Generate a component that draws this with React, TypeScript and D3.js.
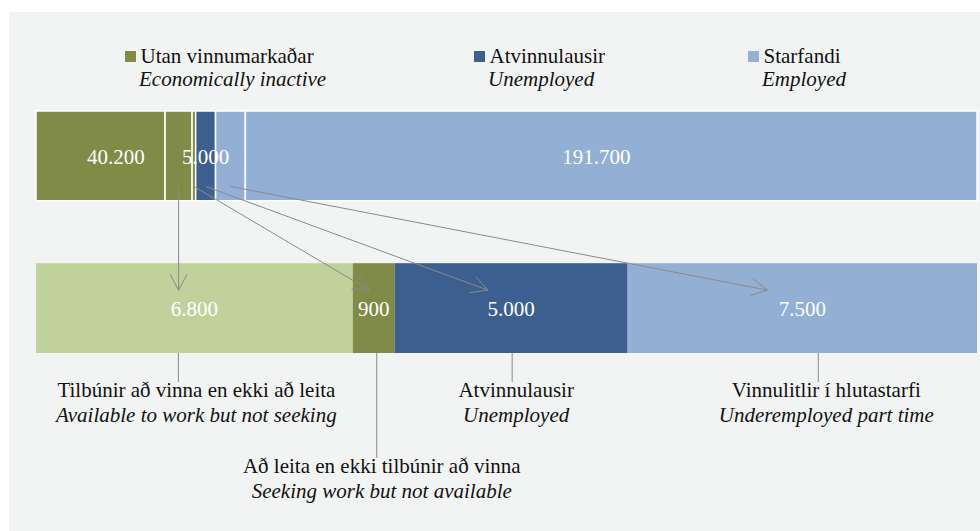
import React, { useEffect, useRef } from 'react';
import * as d3 from 'd3';

// top bar: labour force status (whole population 16-74)
const topCategories = ['Utan vinnumarkaðar', 'Atvinnulausir', 'Starfandi'];
const topCategoriesEn = ['Economically inactive', 'Unemployed', 'Employed'];
const topValues = [40200, 5000, 191700];
const topColors = ['#7f8b47', '#3d5f8f', '#93afd4'];

// bottom bar: slack in the labour market
const bottomLabels = [
  'Tilbúnir að vinna en ekki að leita',
  'Að leita en ekki tilbúnir að vinna',
  'Atvinnulausir',
  'Vinnulitlir í hlutastarfi',
];
const bottomLabelsEn = [
  'Available to work but not seeking',
  'Seeking work but not available',
  'Unemployed',
  'Underemployed part time',
];
const bottomValues = [6800, 900, 5000, 7500];
const bottomParent = [0, 0, 1, 2];
const bottomColors = ['#c0d19b', '#7f8b47', '#3d5f8f', '#93afd4'];

const W = 980;
const H = 531;
const FONT = "'Liberation Serif', 'DejaVu Serif', serif";
const FS = 21;

const App: React.FC = () => {
  const ref = useRef<SVGSVGElement | null>(null);

  useEffect(() => {
    const svg = d3.select(ref.current);
    svg.selectAll('*').remove();

    const fmt = d3.formatLocale({ decimal: ',', thousands: '.', grouping: [3], currency: ['', ''] }).format(',');

    svg.append('rect')
      .attr('x', 9).attr('y', 12)
      .attr('width', W - 9).attr('height', H - 12)
      .attr('fill', '#f2f4f3');

    const y = d3.scaleBand<string>()
      .domain(['top', 'bottom'])
      .range([111, 353])
      .paddingInner(0.41)
      .paddingOuter(0);
    const bw = y.bandwidth();

    const xTop = d3.scaleLinear().domain([0, d3.sum(topValues)]).range([36, 977]);
    const xBot = d3.scaleLinear().domain([0, d3.sum(bottomValues)]).range([36, 977]);

    // top bar segments, split into the parts that feed the bottom bar
    type Seg = { v: number; cat: number; child: number; x0: number; x1: number };
    const topSegs: Seg[] = [];
    let acc = 0;
    topValues.forEach((tv, i) => {
      const kids = bottomParent.map((p, j) => (p === i ? j : -1)).filter((j) => j >= 0);
      const rest = tv - d3.sum(kids, (j) => bottomValues[j]);
      const parts: { v: number; child: number }[] = kids.map((j) => ({ v: bottomValues[j], child: j }));
      if (rest > 0) {
        if (i === 0) parts.unshift({ v: rest, child: -1 });
        else parts.push({ v: rest, child: -1 });
      }
      parts.forEach((p) => {
        topSegs.push({ v: p.v, cat: i, child: p.child, x0: xTop(acc), x1: xTop(acc + p.v) });
        acc += p.v;
      });
    });

    const yTop = y('top')!;
    const yBot = y('bottom')!;

    svg.append('g').selectAll('rect')
      .data(topSegs)
      .enter()
      .append('rect')
      .attr('x', (d) => d.x0)
      .attr('y', yTop)
      .attr('width', (d) => d.x1 - d.x0)
      .attr('height', bw)
      .attr('fill', (d) => topColors[d.cat])
      .attr('stroke', '#ffffff')
      .attr('stroke-width', 1.5);

    // top value labels, centred on each category
    const topStarts = topValues.map((_, i) => d3.sum(topValues.slice(0, i)));
    svg.append('g').selectAll('text')
      .data(topValues)
      .enter()
      .append('text')
      .attr('x', (d, i) => (xTop(topStarts[i]) + xTop(topStarts[i] + d)) / 2)
      .attr('y', yTop + bw / 2 + 8)
      .attr('text-anchor', 'middle')
      .style('font-family', FONT)
      .attr('font-size', FS)
      .attr('fill', '#ffffff')
      .text((d) => fmt(d));

    // bottom bar
    const botStarts = bottomValues.map((_, i) => d3.sum(bottomValues.slice(0, i)));
    const bot = bottomValues.map((v, i) => ({ v, x0: xBot(botStarts[i]), x1: xBot(botStarts[i] + v) }));

    svg.append('g').selectAll('rect')
      .data(bot)
      .enter()
      .append('rect')
      .attr('x', (d) => d.x0)
      .attr('y', yBot)
      .attr('width', (d) => d.x1 - d.x0)
      .attr('height', bw)
      .attr('fill', (d, i) => bottomColors[i]);

    svg.append('g').selectAll('text')
      .data(bot)
      .enter()
      .append('text')
      .attr('x', (d) => (d.x0 + d.x1) / 2)
      .attr('y', yBot + bw / 2 + 8)
      .attr('text-anchor', 'middle')
      .style('font-family', FONT)
      .attr('font-size', FS)
      .attr('fill', '#ffffff')
      .text((d) => fmt(d.v));

    // arrows from top parts to bottom segments
    const arrows = svg.append('g')
      .attr('stroke', '#8a8a8a')
      .attr('stroke-width', 1)
      .attr('fill', 'none');
    topSegs.filter((s) => s.child >= 0).forEach((s) => {
      const b = bot[s.child];
      const sx = (s.x0 + s.x1) / 2;
      const sy = yTop + bw * 0.84;
      const ex = sx >= b.x0 && sx <= b.x1 ? sx : b.x0 + 0.4 * (b.x1 - b.x0);
      const ey = yBot + bw * 0.3;
      arrows.append('line')
        .attr('x1', sx).attr('y1', sy)
        .attr('x2', ex).attr('y2', ey);
      const ang = Math.atan2(ey - sy, ex - sx);
      const len = 18;
      const spread = (28 * Math.PI) / 180;
      [-spread, spread].forEach((a) => {
        arrows.append('line')
          .attr('x1', ex).attr('y1', ey)
          .attr('x2', ex - len * Math.cos(ang + a))
          .attr('y2', ey - len * Math.sin(ang + a));
      });
    });

    // leader lines and labels below the bottom bar
    const labelLayout = [
      { dx: -16, tdx: 2, row: 0 },
      { dx: 3, tdx: 8, row: 1 },
      { dx: 1, tdx: 5, row: 0 },
      { dx: 16, tdx: 24, row: 0 },
    ];
    const labels = svg.append('g');
    bot.forEach((b, i) => {
      const L = labelLayout[i];
      const cx = (b.x0 + b.x1) / 2;
      const base = L.row === 0 ? 397 : 473;
      labels.append('line')
        .attr('x1', cx + L.dx).attr('x2', cx + L.dx)
        .attr('y1', yBot + bw).attr('y2', base - 15)
        .attr('stroke', '#8a8a8a')
        .attr('stroke-width', 1);
      labels.append('text')
        .attr('x', cx + L.tdx).attr('y', base)
        .attr('text-anchor', 'middle')
        .style('font-family', FONT).attr('font-size', FS)
        .attr('fill', '#111')
        .text(bottomLabels[i]);
      labels.append('text')
        .attr('x', cx + L.tdx).attr('y', base + 24.5)
        .attr('text-anchor', 'middle')
        .style('font-family', FONT).attr('font-size', FS)
        .attr('font-style', 'italic')
        .attr('fill', '#111')
        .text(bottomLabelsEn[i]);
    });

    // legend
    const legendX = [125, 474, 748];
    const legend = svg.append('g').selectAll('g')
      .data(topCategories)
      .enter()
      .append('g')
      .attr('transform', (d, i) => `translate(${legendX[i]},51)`);
    legend.append('rect')
      .attr('width', 11).attr('height', 11)
      .attr('fill', (d, i) => topColors[i]);
    legend.append('text')
      .attr('x', 15.5).attr('y', 11.5)
      .style('font-family', FONT).attr('font-size', FS)
      .attr('fill', '#111')
      .text((d) => d);
    legend.append('text')
      .attr('x', 14).attr('y', 35)
      .style('font-family', FONT).attr('font-size', FS)
      .attr('font-style', 'italic')
      .attr('fill', '#111')
      .text((d, i) => topCategoriesEn[i]);
  }, []);

  return (
    <svg
      ref={ref}
      width={W}
      height={H}
      style={{ position: 'absolute', left: 0, top: 0, background: '#ffffff' }}
    />
  );
};

export default App;
